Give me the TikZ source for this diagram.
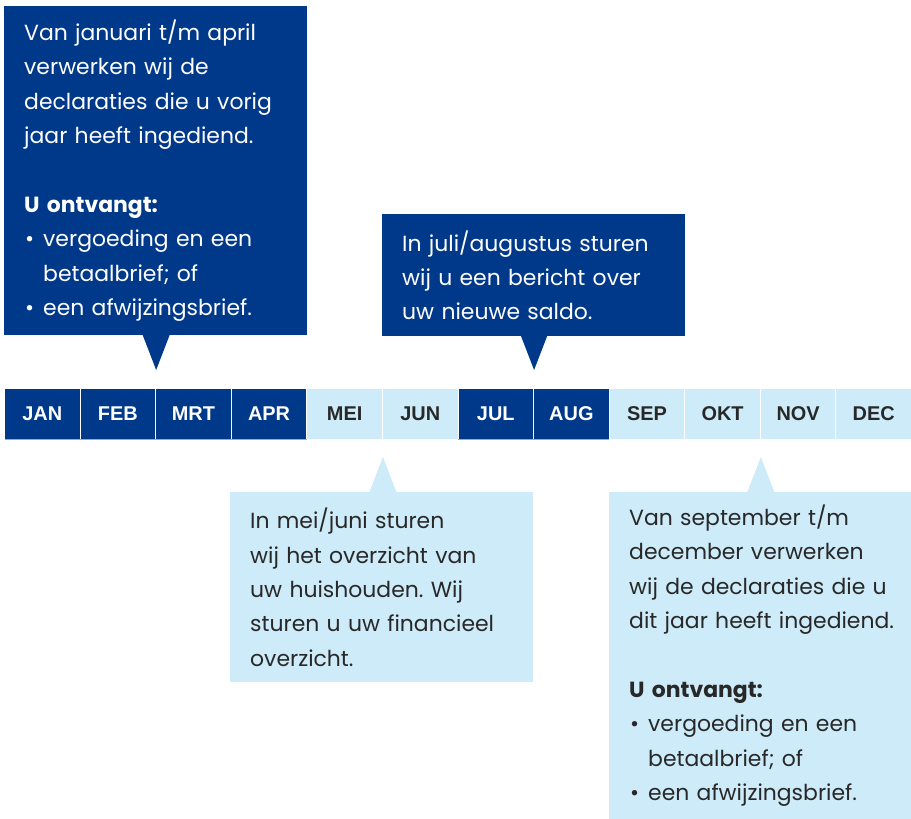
\documentclass[tikz,border=0pt]{standalone}
\usepackage{fontspec}
\setmainfont{Poppins}
\newfontfamily\monthfont{Liberation Sans}
\usetikzlibrary{calc}
\definecolor{navy}{RGB}{0,57,137}
\definecolor{pale}{RGB}{205,235,248}
\definecolor{ink}{RGB}{40,40,40}
\definecolor{edge}{RGB}{150,170,205}
\newcommand{\bul}{\makebox[19bp][l]{\kern1bp•}}
\newcommand{\ind}{\hspace*{19bp}}
\newcommand{\tline}[1]{\mbox{#1}}
\frenchspacing
\begin{document}
\begin{tikzpicture}[x=1bp,y=-1bp,
  cell/.style={anchor=north west,minimum width=75.583bp,minimum height=51bp,inner sep=0pt,draw=white,line width=1bp,font=\monthfont\bfseries\fontsize{20}{22}\selectfont},
  darkcell/.style={cell,fill=navy,text=white},
  lightcell/.style={cell,fill=pale,text=ink},
  callout/.style={anchor=north west,inner xsep=20bp,inner ysep=0pt,text width=263bp,minimum width=303bp,align=left,font=\fontsize{22}{34.5}\selectfont},
  darkbox/.style={callout,fill=navy,text=white},
  lightbox/.style={callout,fill=pale,text=ink}]
\useasboundingbox (0,0) rectangle (911,819);
% month bar
\node[darkcell] (jan) at (4,388) {JAN};
\node[darkcell] (feb) at (79.58,388) {FEB};
\node[darkcell] (mrt) at (155.17,388) {MRT};
\node[darkcell] (apr) at (230.75,388) {APR};
\node[lightcell] (mei) at (306.33,388) {MEI};
\node[lightcell] (jun) at (381.92,388) {JUN};
\node[darkcell] (jul) at (457.5,388) {JUL};
\node[darkcell] (aug) at (533.08,388) {AUG};
\node[lightcell] (sep) at (608.67,388) {SEP};
\node[lightcell] (okt) at (684.25,388) {OKT};
\node[lightcell] (nov) at (759.83,388) {NOV};
\node[lightcell] (dec) at (835.42,388) {DEC};
\draw[edge,line width=1bp] ($(jan.south west)+(0.5,-0.5)$) -- ($(apr.south east)+(-0.5,-0.5)$);
\draw[edge,line width=1bp] ($(jul.south west)+(0.5,-0.5)$) -- ($(aug.south east)+(-0.5,-0.5)$);
% callout 1
\node[darkbox,minimum height=329bp] (b1) at (4,6) {\tline{Van januari t/m april}\\\tline{verwerken wij de}\\\tline{declaraties die u vorig}\\\tline{jaar heeft ingediend.}\\[34.5bp]
\textbf{U ontvangt:}\\\tline{\bul vergoeding en een}\\\tline{\ind betaalbrief; of}\\\tline{\bul een afwijzingsbrief.}};
\coordinate (t1) at ($(feb.north east)+(0,-18)$);
\fill[navy] (t1) -- ($(t1)+(-13.5,-35)$) -- ($(t1)+(13.5,-35)$) -- cycle;
% callout 2
\node[darkbox,minimum height=122bp] (b2) at (382,214) {\tline{In juli/augustus sturen}\\\tline{wij u een bericht over}\\\tline{uw nieuwe saldo.}};
\coordinate (t2) at ($(jul.north east)+(0,-18)$);
\fill[navy] (t2) -- ($(t2)+(-13.5,-35)$) -- ($(t2)+(13.5,-35)$) -- cycle;
% callout 3
\node[lightbox,minimum height=190bp] (b3) at (230,492) {\tline{In mei/juni sturen}\\\tline{wij het overzicht van}\\\tline{uw huishouden. Wij}\\\tline{sturen u uw financieel}\\\tline{overzicht.}};
\coordinate (t3) at ($(mei.south east)+(0,17)$);
\fill[pale] (t3) -- ($(t3)+(-13.5,35)$) -- ($(t3)+(13.5,35)$) -- cycle;
% callout 4
\node[lightbox,minimum height=327bp,text width=262bp,minimum width=302bp] (b4) at (609,492) {\tline{Van september t/m}\\\tline{december verwerken}\\\tline{wij de declaraties die u}\\\tline{dit jaar heeft ingediend.}\\[34.5bp]
\textbf{U ontvangt:}\\\tline{\bul vergoeding en een}\\\tline{\ind betaalbrief; of}\\\tline{\bul een afwijzingsbrief.}};
\coordinate (t4) at ($(okt.south east)+(0,17)$);
\fill[pale] (t4) -- ($(t4)+(-13.5,35)$) -- ($(t4)+(13.5,35)$) -- cycle;
\end{tikzpicture}
\end{document}
